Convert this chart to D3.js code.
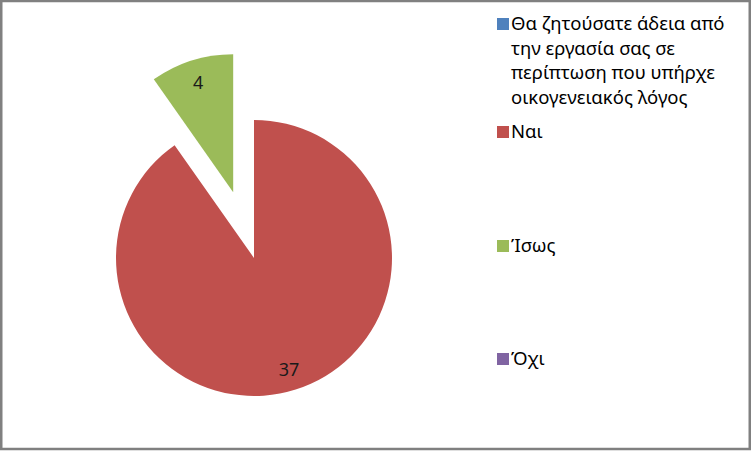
<!DOCTYPE html>
<html>
<head>
<meta charset="utf-8">
<script src="https://cdn.jsdelivr.net/npm/d3@7"></script>
<style>
  body { margin: 0; background: #fff; }
  text { font-family: "Noto Sans", "Open Sans", sans-serif; }
</style>
</head>
<body>
<div id="chart"></div>
<script>
// categories and values
const categories = [
  "Θα ζητούσατε άδεια από την εργασία σας σε περίπτωση που υπήρχε οικογενειακός λόγος",
  "Ναι",
  "Ίσως",
  "Όχι"
]
const values = [0, 37, 4, 0]
const colors = ["#4F81BD", "#C0504D", "#9BBB59", "#8064A2"]
const exploded = [false, false, true, false]
// legend text lines (first entry wraps in the original)
const legendLines = [
  ["Θα ζητούσατε άδεια από", "την εργασία σας σε", "περίπτωση που υπήρχε", "οικογενειακός λόγος"],
  ["Ναι"],
  ["Ίσως"],
  ["Όχι"]
]

const width = 753
const height = 451
const cx = 254, cy = 258, radius = 138
const explodeDist = 69

const data = categories.map((c, i) => ({name: c, value: values[i], color: colors[i], exploded: exploded[i], lines: legendLines[i]}))

const svg = d3.select('#chart')
  .append('svg')
    .attr('width', width)
    .attr('height', height)

// outer border
svg.append('rect')
    .attr('x', 1.25)
    .attr('y', 1)
    .attr('width', 748.5)
    .attr('height', 448)
    .attr('fill', 'white')
    .attr('stroke', '#808080')
    .attr('stroke-width', 2.5)

const pie = d3.pie()
    .sort(null)
    .value(d => d.value)
    .startAngle(0)
    .endAngle(2 * Math.PI)

const arc = d3.arc()
    .innerRadius(0)
    .outerRadius(radius)

const labelArc = d3.arc()
    .innerRadius(radius * 0.84)
    .outerRadius(radius * 0.84)

const arcs = pie(data).filter(d => d.value > 0)

// offset of a slice when pulled out of the pie
function offset(d) {
  if (!d.data.exploded) return [0, 0]
  const a = (d.startAngle + d.endAngle) / 2
  return [Math.sin(a) * explodeDist, -Math.cos(a) * explodeDist]
}

const slices = svg.append('g')
    .attr('transform', `translate(${cx}, ${cy})`)
  .selectAll('g')
  .data(arcs)
  .join('g')
    .attr('transform', d => `translate(${offset(d)})`)

slices.append('path')
    .attr('d', arc)
    .attr('fill', d => d.data.color)

slices.append('text')
    .attr('transform', d => `translate(${labelArc.centroid(d)})`)
    .attr('text-anchor', 'middle')
    .attr('dominant-baseline', 'central')
    .attr('font-size', 18)
    .attr('fill', '#1a1a1a')
    .text(d => d.value)

// legend
const legendX = 497
const legendBaselines = [30, 138, 252, 365]
const lineStep = 24.5

const legend = svg.append('g')
  .selectAll('g')
  .data(data)
  .join('g')
    .attr('transform', (d, i) => `translate(${legendX}, ${legendBaselines[i]})`)

legend.append('rect')
    .attr('x', 0)
    .attr('y', -12)
    .attr('width', 12)
    .attr('height', 12)
    .attr('fill', d => d.color)

legend.append('text')
    .attr('x', 14)
    .attr('y', 0)
    .attr('font-size', 18.5)
    .attr('fill', 'black')
  .selectAll('tspan')
  .data(d => d.lines)
  .join('tspan')
    .attr('x', 14)
    .attr('dy', (d, i) => i === 0 ? 0 : lineStep)
    .text(d => d)
</script>
</body>
</html>
